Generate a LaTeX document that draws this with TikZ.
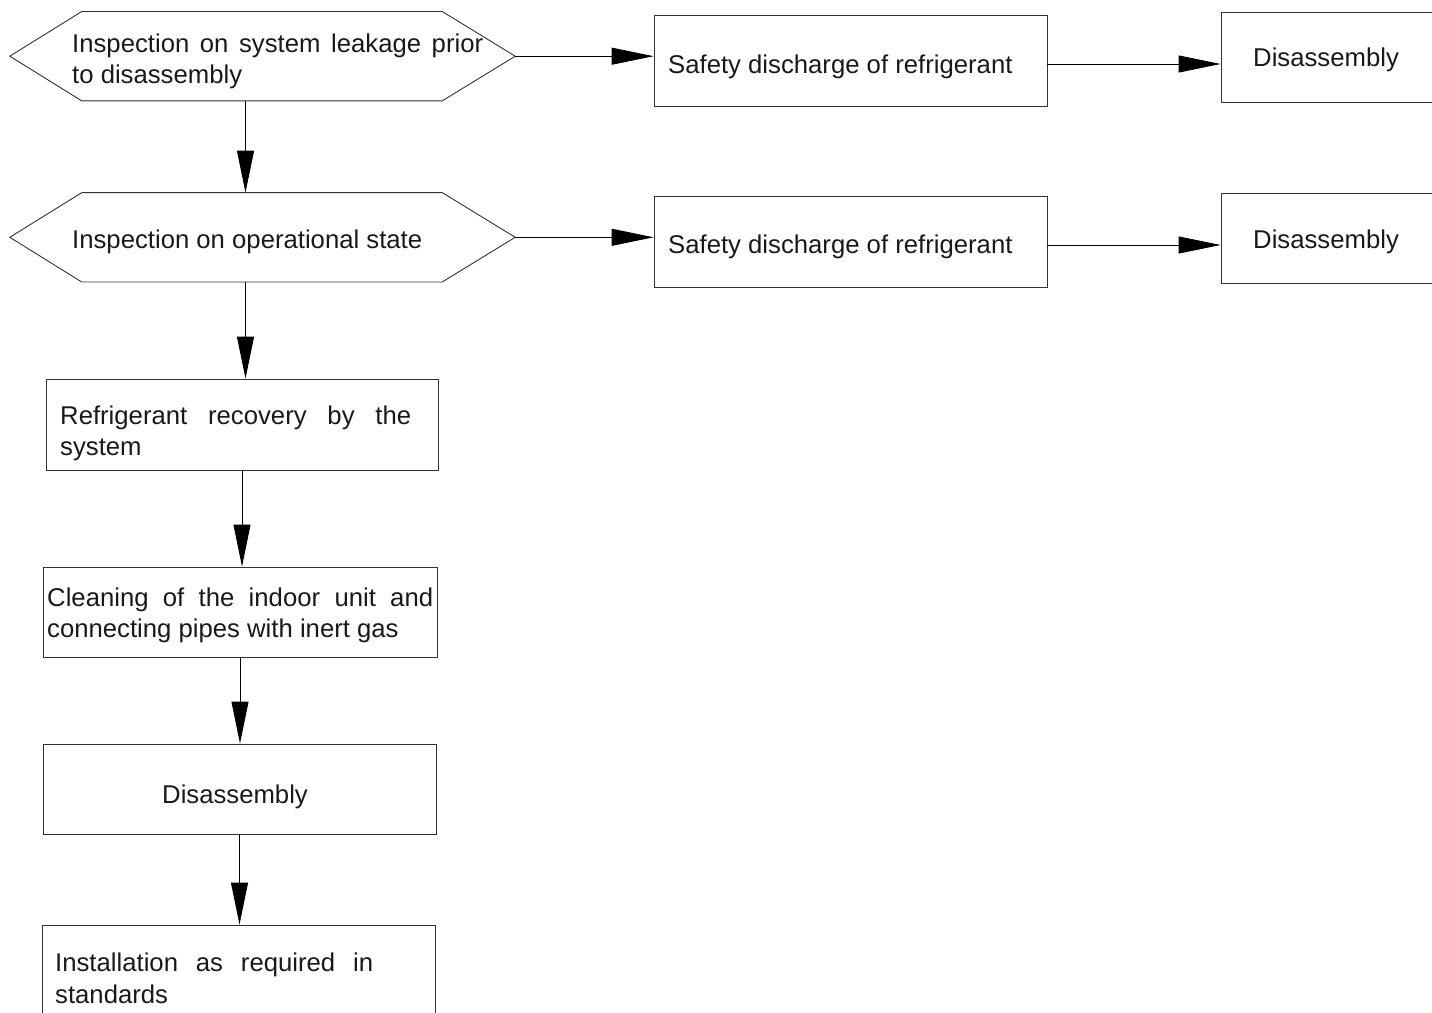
\documentclass[tikz,border=0pt]{standalone}
\usepackage{fontspec}
\setmainfont{Liberation Sans}
\usetikzlibrary{arrows.meta}
\begin{document}
\begin{tikzpicture}[x=1pt,y=-1pt,
  boxline/.style={draw=black!80, line width=0.9pt},
  flowbox/.style={boxline, rectangle, inner sep=0pt},
  hexarea/.style={rectangle, draw=none, inner sep=0pt, minimum width=505pt, minimum height=89pt},
  txt/.style={inner sep=0pt, anchor=base west, text=black!90, font=\fontsize{25.7}{31.5}\selectfont},
  arr/.style={draw=black, line width=0.9pt, -{Triangle[length=42pt,width=17pt]}}]
\useasboundingbox (0,0) rectangle (1432,1012);
\clip (0,0) rectangle (1432,1012);

% hexagon decision nodes
\node[hexarea] (H1) at (262.5,56.2) {};
\node[hexarea] (H2) at (262.5,237.3) {};
\draw[boxline] (H1.west) -- ([xshift=72pt]H1.north west) -- ([xshift=-73pt]H1.north east) -- (H1.east) -- ([xshift=-73pt]H1.south east) -- ([xshift=72pt]H1.south west) -- cycle;
\draw[boxline] (H2.west) -- ([xshift=72pt]H2.north west) -- ([xshift=-73pt]H2.north east) -- (H2.east) -- ([xshift=-73pt]H2.south east) -- ([xshift=72pt]H2.south west) -- cycle;

% boxes
\node[flowbox, minimum width=393pt, minimum height=91pt] (S1) at (850.5,60.5) {};
\node[flowbox, minimum width=393pt, minimum height=91pt] (S2) at (850.5,241.5) {};
\node[flowbox, minimum width=224pt, minimum height=90pt] (D1) at (1333,57) {};
\node[flowbox, minimum width=224pt, minimum height=90pt] (D2) at (1333,238) {};
\node[flowbox, minimum width=392pt, minimum height=91pt] (R) at (242,424.5) {};
\node[flowbox, minimum width=394pt, minimum height=90pt] (C) at (240,612) {};
\node[flowbox, minimum width=393pt, minimum height=90pt] (D3) at (239.5,789) {};
\node[flowbox, minimum width=393pt, minimum height=100pt] (I) at (238.5,975) {};

% texts
\node[txt] (t1) at (72,52.3) {\parbox[t]{411pt}{Inspection on system leakage prior to disassembly}};
\node[txt] (t2) at (72,248.5) {Inspection on operational state};
\node[txt] (t3) at (668,73.8) {Safety discharge of refrigerant};
\node[txt] (t4) at (668,253.5) {Safety discharge of refrigerant};
\node[txt] (t5) at (1253,66.5) {Disassembly};
\node[txt] (t6) at (1253,248.3) {Disassembly};
\node[txt] (t7) at (60,424.3) {\parbox[t]{351pt}{Refrigerant recovery by the system}};
\node[txt] (t8) at (47,606) {\parbox[t]{386pt}{Cleaning of the indoor unit and connecting pipes with inert gas}};
\node[txt] (t9) at (162,803.3) {Disassembly};
\node[txt] (t10) at (55,971.5) {\parbox[t]{318pt}{Installation as required in standards}};

% connectors
\coordinate (h1b) at ([xshift=-17pt]H1.south);
\coordinate (h2b) at ([xshift=-17pt]H2.south);
\coordinate (s1e) at ([yshift=-3.5pt]S1.east);
\coordinate (s2e) at ([yshift=-3.5pt]S2.east);
\draw[arr] (H1.east) -- (H1.east -| S1.west);
\draw[arr] (s1e) -- (s1e -| D1.west);
\draw[arr] (H2.east) -- (H2.east -| S2.west);
\draw[arr] (s2e) -- (s2e -| D2.west);
\draw[arr] (h1b) -- (h1b |- H2.north);
\draw[arr] (h2b) -- (h2b |- R.north);
\draw[arr] (R.south) -- (R.south |- C.north);
\draw[arr] (C.south) -- (C.south |- D3.north);
\draw[arr] (D3.south) -- (D3.south |- I.north);
\end{tikzpicture}
\end{document}
